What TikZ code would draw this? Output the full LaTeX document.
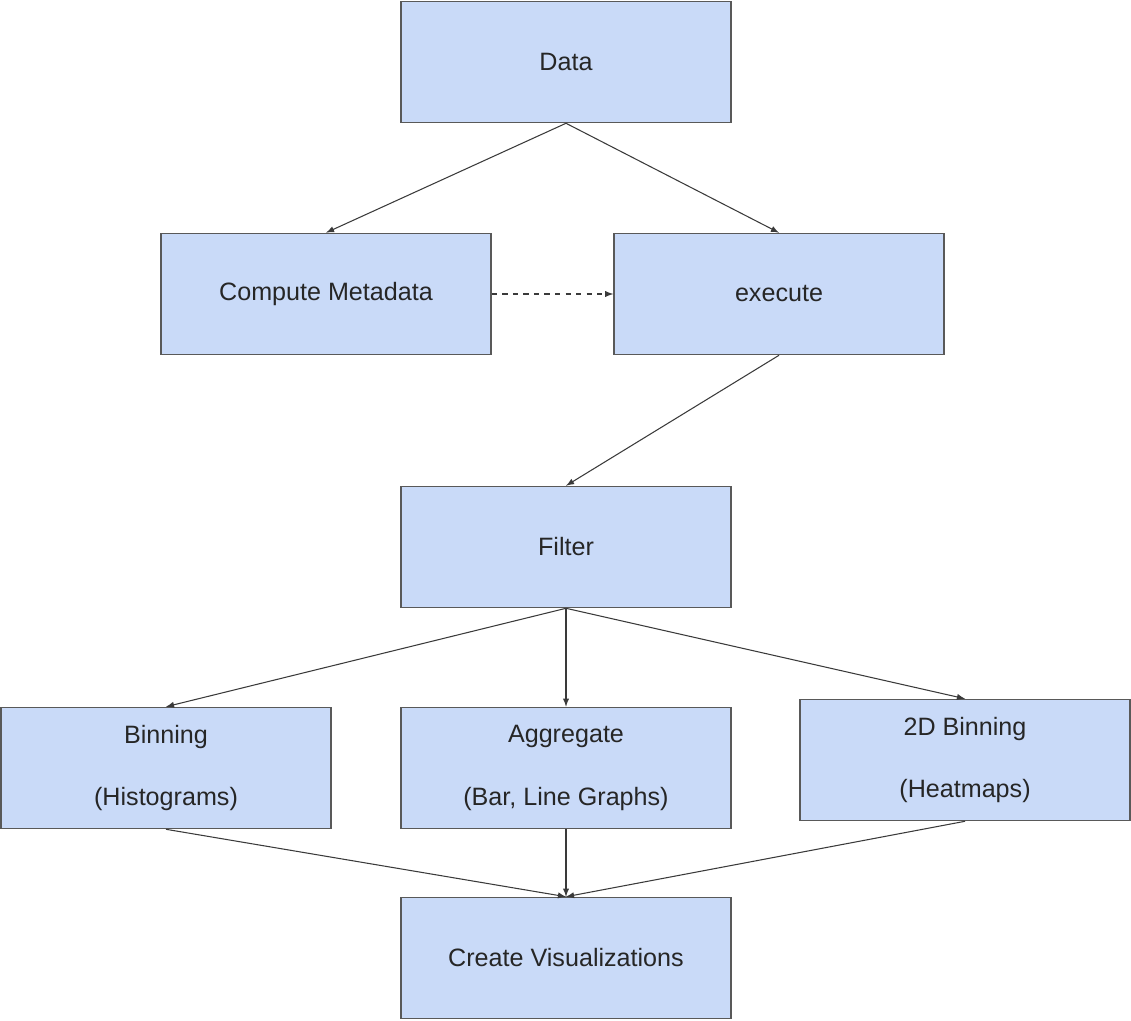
\documentclass[tikz,border=0pt]{standalone}
\usepackage{fontspec}
\setmainfont{Liberation Sans}
\usepackage{tikz}
\usetikzlibrary{arrows,calc,positioning,shapes}
\definecolor{boxfill}{HTML}{C9DAF8}
\definecolor{boxline}{HTML}{595959}
\definecolor{arrline}{HTML}{3A3A3A}
\tikzset{%
	block/.style = {draw=boxline, fill=boxfill, line width=0.9pt, rectangle, minimum width=6.6cm, minimum height=2.42cm, text centered, align=center, font=\fontsize{14.3}{16}\selectfont, text=black!85},
	arrow/.style = {draw=arrline, line width=0.6pt, -latex},
	dasharrow/.style = {arrow, dashed},
}
\begin{document}
\begin{tikzpicture}[x=0.02cm,y=-0.02cm]
		\useasboundingbox (0,0) rectangle (1131,1020);
		% boxes
		\node[block] (data) at (566,62) {Data};
		\node[block] (meta) at (326,294) {Compute Metadata};
		\node[block] (exec) at (779,294) {execute};
		\node[block] (filter) at (566,547) {Filter};
		\node[block] (bin) at (166,768) {Binning\\[0.68cm](Histograms)};
		\node[block] (agg) at (566,768) {Aggregate\\[0.68cm](Bar, Line Graphs)};
		\node[block] (bintwo) at (965,760) {2D Binning\\[0.68cm](Heatmaps)};
		\node[block] (vis) at (566,958) {Create Visualizations};
		% connectors
		\draw[arrow] (data.south) -- (meta.north);
		\draw[arrow] (data.south) -- (exec.north);
		\draw[dasharrow] (meta.east) -- (exec.west);
		\draw[arrow] (exec.south) -- (filter.north);
		\draw[arrow] (filter.south) -- (bin.north);
		\draw[arrow] (filter.south) -- (agg.north);
		\draw[arrow] (filter.south) -- (bintwo.north);
		\draw[arrow] (bin.south) -- (vis.north);
		\draw[arrow] (agg.south) -- (vis.north);
		\draw[arrow] (bintwo.south) -- (vis.north);
\end{tikzpicture}
\end{document}
